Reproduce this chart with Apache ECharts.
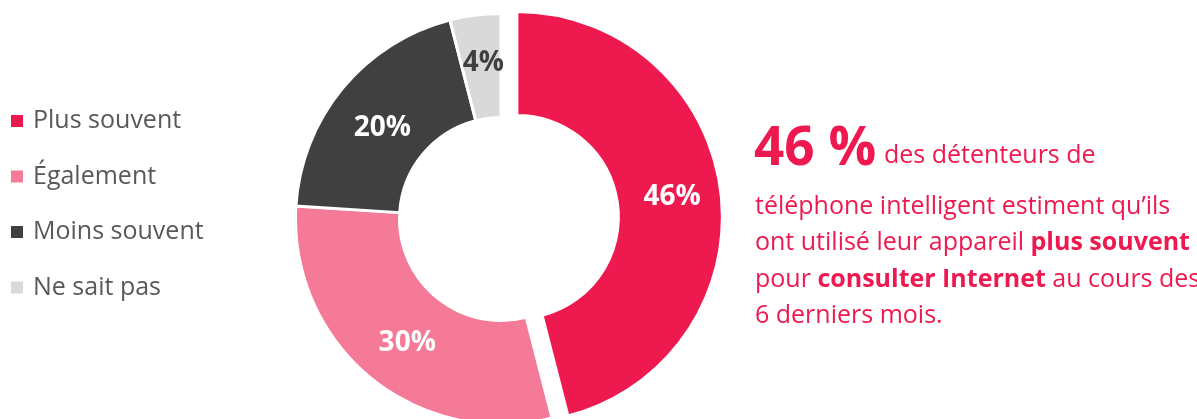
<!DOCTYPE html>
<html>
<head>
<meta charset="utf-8">
<script src="https://cdn.jsdelivr.net/npm/echarts@6/dist/echarts.min.js"></script>
<style>
html,body{margin:0;padding:0;background:#fff;}
#c{width:1197px;height:419px;}
</style>
</head>
<body>
<div id="c"></div>
<script>
const categories = ['Plus souvent', 'Également', 'Moins souvent', 'Ne sait pas'];
const values = [46, 30, 20, 4];
const sliceColors = ['#EE194F', '#F47A97', '#404040', '#D9D9D9'];
const labelColors = ['#ffffff', '#ffffff', '#ffffff', '#404040'];
const labelShifts = [[-4, 3], [6, 3], [2, 9], [2, -1]];

const FONT = '"Open Sans", "Noto Sans", sans-serif';
const RED = '#EE194F';

const chart = echarts.init(document.getElementById('c'), null, {renderer: 'canvas'});

const pieData = categories.map((name, i) => ({
  name: name,
  value: values[i],
  selected: i === 0,
  itemStyle: {color: sliceColors[i]},
  label: {color: labelColors[i], offset: labelShifts[i]}
}));

chart.setOption({
  animation: false,
  backgroundColor: '#ffffff',
  legend: {
    orient: 'vertical',
    left: 6,
    top: 102,
    icon: 'rect',
    itemWidth: 12,
    itemHeight: 12,
    itemGap: 27.5,
    selectedMode: false,
    itemStyle: {borderWidth: 0},
    data: categories,
    textStyle: {fontFamily: FONT, fontSize: 25, color: '#595959', lineHeight: 28, padding: [0, 0, 0, 5]}
  },
  series: [{
    type: 'pie',
    center: [501, 219],
    radius: [101.5, 205.5],
    startAngle: 90,
    clockwise: true,
    selectedMode: 'single',
    selectedOffset: 16,
    avoidLabelOverlap: false,
    itemStyle: {borderColor: '#ffffff', borderWidth: 3},
    label: {
      show: true,
      position: 'inside',
      formatter: '{c}%',
      fontFamily: FONT,
      fontSize: 28,
      fontWeight: 'bold'
    },
    labelLine: {show: false},
    emphasis: {disabled: true},
    data: pieData
  }],
  graphic: [
    {
      type: 'text',
      left: 754,
      top: 123,
      style: {
        text: '46 %',
        font: 'bold 53px ' + FONT,
        fill: RED
      }
    },
    {
      type: 'text',
      left: 884,
      top: 143,
      style: {
        text: 'des détenteurs de',
        font: '25px ' + FONT,
        fill: RED
      }
    },
    {
      type: 'text',
      left: 755,
      top: 194,
      style: {
        text: '{n|téléphone intelligent estiment qu’ils}\n{n|ont utilisé leur appareil }{b|plus souvent}\n{n|pour }{b|consulter Internet}{n| au cours des}\n{n|6 derniers mois.}',
        rich: {
          n: {fontFamily: FONT, fontSize: 25, fill: RED, lineHeight: 36.5},
          b: {fontFamily: FONT, fontSize: 25, fontWeight: 'bold', fill: RED, lineHeight: 36.5}
        }
      }
    }
  ]
});
</script>
</body>
</html>
